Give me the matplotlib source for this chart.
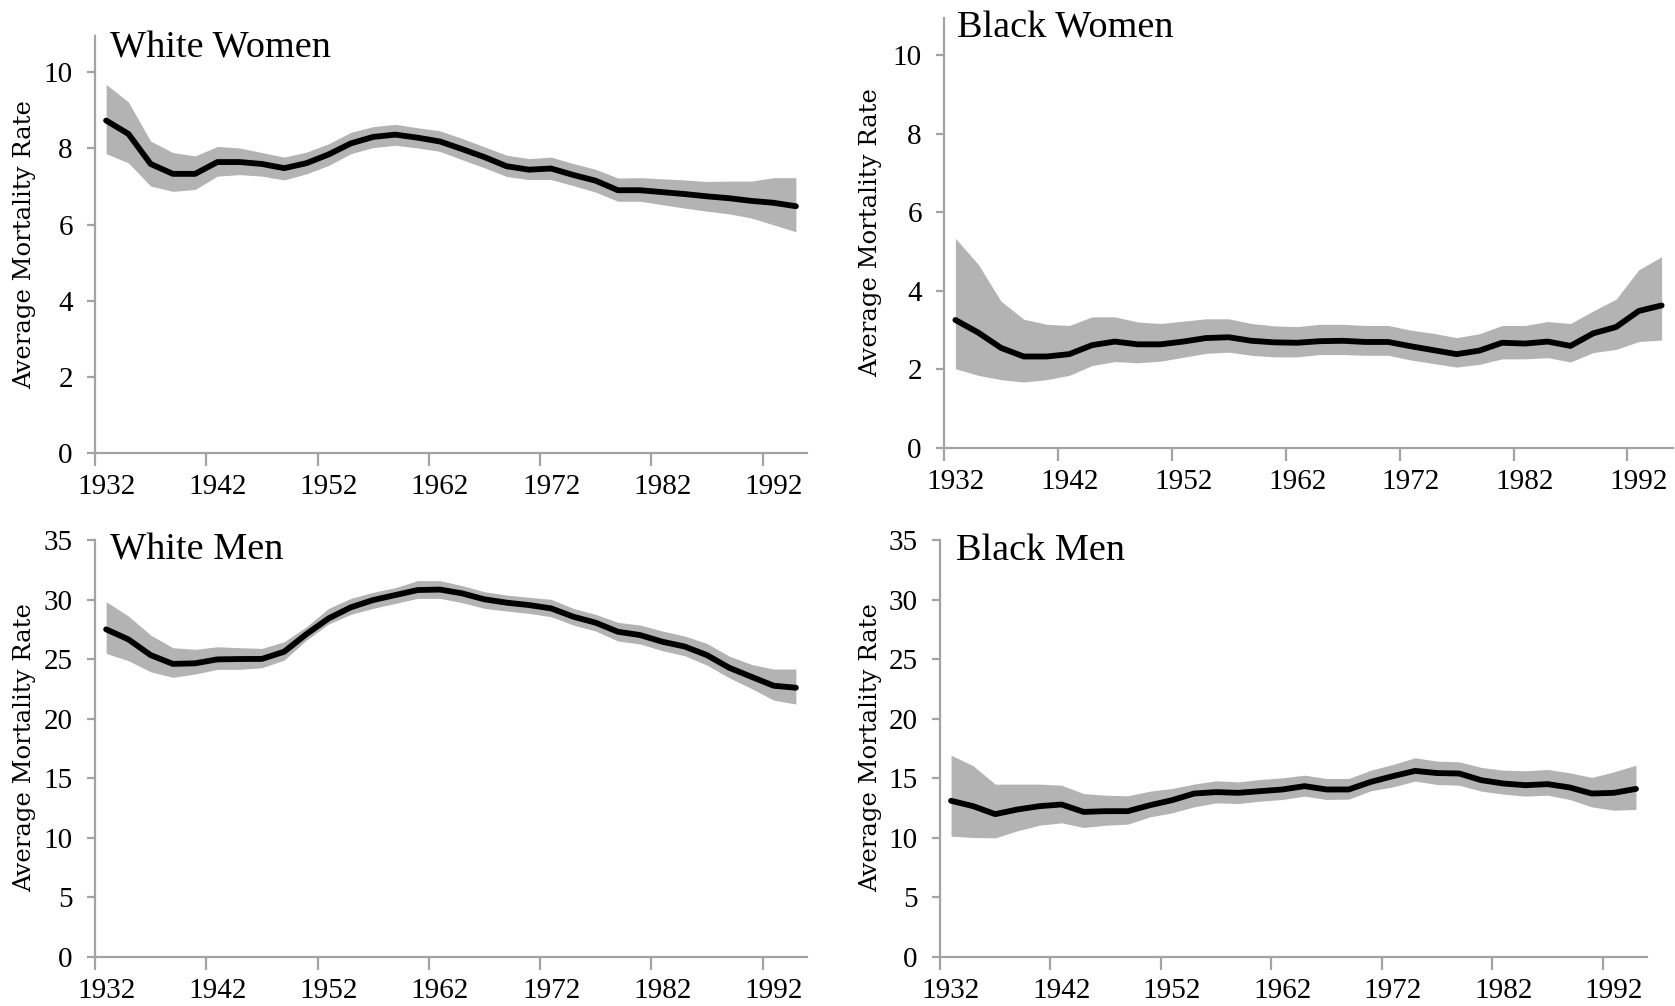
import numpy as np
import matplotlib
matplotlib.use("Agg")
import matplotlib.pyplot as plt

# two-year birth cohorts
years = np.arange(1932, 1996, 2)

# White Women
ww_mean = [8.73, 8.38, 7.59, 7.33, 7.33, 7.64, 7.64, 7.59, 7.48, 7.61, 7.84, 8.13, 8.30, 8.36, 8.28, 8.18,
           7.98, 7.77, 7.53, 7.44, 7.47, 7.30, 7.15, 6.90, 6.90, 6.85, 6.80, 6.74, 6.69, 6.62, 6.57, 6.48]
ww_hi = [9.68, 9.22, 8.19, 7.89, 7.80, 8.05, 8.01, 7.89, 7.77, 7.90, 8.12, 8.42, 8.57, 8.63, 8.54, 8.46,
         8.26, 8.04, 7.82, 7.73, 7.77, 7.60, 7.45, 7.22, 7.23, 7.20, 7.17, 7.13, 7.14, 7.14, 7.23, 7.23]
ww_lo = [7.86, 7.62, 7.01, 6.87, 6.92, 7.27, 7.31, 7.27, 7.17, 7.33, 7.55, 7.86, 8.02, 8.08, 8.01, 7.92,
         7.70, 7.49, 7.26, 7.18, 7.18, 7.02, 6.85, 6.61, 6.61, 6.52, 6.43, 6.35, 6.28, 6.17, 5.99, 5.81]

# Black Women
bw_mean = [3.26, 2.94, 2.55, 2.33, 2.33, 2.39, 2.62, 2.71, 2.64, 2.64, 2.71, 2.80, 2.82, 2.73, 2.69, 2.68,
           2.72, 2.73, 2.70, 2.70, 2.59, 2.49, 2.39, 2.48, 2.68, 2.66, 2.71, 2.60, 2.92, 3.08, 3.49, 3.63]
bw_hi = [5.34, 4.68, 3.74, 3.28, 3.15, 3.12, 3.34, 3.34, 3.21, 3.17, 3.23, 3.29, 3.29, 3.17, 3.11, 3.09,
         3.15, 3.15, 3.12, 3.12, 3.00, 2.92, 2.81, 2.91, 3.12, 3.12, 3.22, 3.17, 3.49, 3.79, 4.54, 4.87]
bw_lo = [2.02, 1.85, 1.74, 1.68, 1.74, 1.85, 2.10, 2.20, 2.17, 2.21, 2.31, 2.41, 2.44, 2.36, 2.32, 2.32,
         2.38, 2.38, 2.36, 2.36, 2.24, 2.15, 2.06, 2.13, 2.27, 2.27, 2.30, 2.19, 2.43, 2.51, 2.71, 2.75]

# White Men
wm_mean = [27.5, 26.66, 25.34, 24.6, 24.65, 24.98, 25.01, 25.02, 25.62, 27.1, 28.42, 29.35, 29.96, 30.38, 30.8, 30.84,
           30.52, 30.02, 29.74, 29.54, 29.26, 28.56, 28.06, 27.3, 27.02, 26.46, 26.06, 25.34, 24.28, 23.52, 22.77, 22.6]
wm_hi = [29.82, 28.62, 27.02, 25.96, 25.82, 26.04, 25.96, 25.90, 26.46, 27.72, 29.26, 30.10, 30.61, 31.00, 31.59, 31.59,
         31.17, 30.66, 30.38, 30.19, 30.02, 29.26, 28.76, 28.09, 27.86, 27.36, 26.94, 26.32, 25.26, 24.56, 24.17, 24.17]
wm_lo = [25.48, 24.87, 23.94, 23.47, 23.75, 24.14, 24.14, 24.28, 24.92, 26.60, 27.95, 28.76, 29.26, 29.68, 30.10, 30.10,
         29.74, 29.26, 29.04, 28.84, 28.56, 27.86, 27.36, 26.52, 26.27, 25.71, 25.29, 24.50, 23.44, 22.54, 21.56, 21.23]

# Black Men
bm_mean = [13.11, 12.66, 11.99, 12.38, 12.66, 12.8, 12.18, 12.24, 12.24, 12.74, 13.16, 13.72, 13.84, 13.78, 13.92, 14.06,
           14.34, 14.06, 14.06, 14.70, 15.18, 15.62, 15.44, 15.40, 14.84, 14.56, 14.42, 14.51, 14.23, 13.72, 13.78, 14.11]
bm_hi = [16.94, 16.05, 14.51, 14.51, 14.51, 14.42, 13.72, 13.58, 13.53, 13.92, 14.14, 14.51, 14.79, 14.70, 14.90, 15.04,
         15.26, 14.98, 14.98, 15.68, 16.16, 16.72, 16.44, 16.38, 15.91, 15.68, 15.63, 15.74, 15.46, 15.07, 15.54, 16.10]
bm_lo = [10.14, 10.03, 10.00, 10.59, 11.06, 11.26, 10.87, 11.06, 11.15, 11.76, 12.10, 12.60, 12.94, 12.88, 13.08, 13.22,
         13.50, 13.22, 13.25, 13.95, 14.28, 14.76, 14.48, 14.42, 13.92, 13.67, 13.50, 13.58, 13.22, 12.60, 12.32, 12.38]

W, H = 1675, 1006
AXIS_GRAY = "#A3A3A3"
BAND_GRAY = "#B3B3B3"
SERIF = "Liberation Serif"


def px_axes(fig, x0, x1, y_bottom, y_top):
    return fig.add_axes([x0 / W, 1 - y_bottom / H, (x1 - x0) / W, (y_bottom - y_top) / H])


def draw_panel(ax, mean, lo, hi, ymax, ystep):
    ax.fill_between(years, lo, hi, color=BAND_GRAY, linewidth=0)
    ax.plot(years, mean, color="black", lw=4.2, solid_capstyle="round", solid_joinstyle="round")
    ax.set_xlim(1931, 1995)
    ax.set_ylim(0, ymax)
    for s in ("top", "right"):
        ax.spines[s].set_visible(False)
    for s in ("left", "bottom"):
        ax.spines[s].set_color(AXIS_GRAY)
        ax.spines[s].set_linewidth(1.6)
    yt = np.arange(0, ymax + 0.01, ystep)
    ax.set_yticks(yt)
    ax.set_yticklabels([str(int(v)) for v in yt])
    ax.tick_params(axis="y", direction="out", length=6, width=1.6, color=AXIS_GRAY,
                   labelsize=21, pad=10)
    # labels under the cohort, ticks on the category boundary
    ax.set_xticks(np.arange(1932, 1993, 10))
    ax.set_xticklabels([str(y) for y in range(1932, 1993, 10)])
    ax.set_xticks(np.arange(1931, 1992, 10), minor=True)
    ax.tick_params(axis="x", which="major", length=0, labelsize=21, pad=15)
    ax.tick_params(axis="x", which="minor", direction="out", length=9, width=1.6, color=AXIS_GRAY)
    for lab in ax.get_xticklabels() + ax.get_yticklabels():
        lab.set_fontfamily(SERIF)


fig = plt.figure(figsize=(W / 100, H / 100), dpi=100)

ax1 = px_axes(fig, 95, 807, 453, 36)
draw_panel(ax1, ww_mean, ww_lo, ww_hi, 10.95, 2)

ax2 = px_axes(fig, 944, 1673, 448, 18)
draw_panel(ax2, bw_mean, bw_lo, bw_hi, 10.95, 2)

ax3 = px_axes(fig, 95, 807, 957, 540)
draw_panel(ax3, wm_mean, wm_lo, wm_hi, 35, 5)

ax4 = px_axes(fig, 940, 1647, 957, 540)
draw_panel(ax4, bm_mean, bm_lo, bm_hi, 35, 5)

titles = [("White Women", 110, 57), ("Black Women", 957, 37), ("White Men", 110, 560), ("Black Men", 956, 560)]
for txt, x, y in titles:
    fig.text(x / W, 1 - y / H, txt, fontsize=27.5, fontfamily=SERIF, ha="left", va="baseline")

for x, y in [(25, 245), (871, 233), (25, 748), (871, 748)]:
    fig.text(x / W, 1 - y / H, "Average Mortality Rate", rotation=90, fontsize=17.5,
             fontfamily="DejaVu Serif", ha="center", va="center")

fig.savefig("out.png", dpi=100)
